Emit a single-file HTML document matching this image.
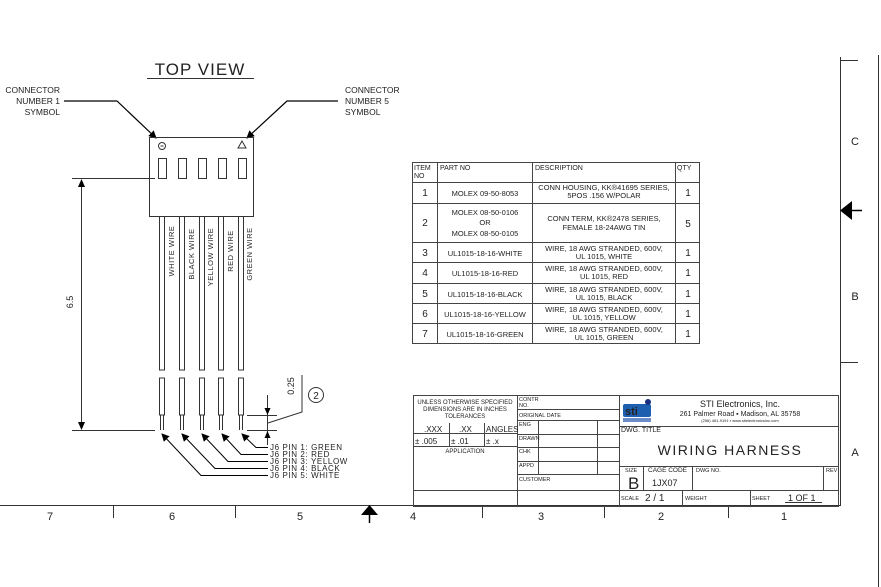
<!DOCTYPE html>
<html><head><meta charset="utf-8"><style>
html,body{margin:0;padding:0;background:#fff;}
svg{display:block;}
text{font-family:"Liberation Sans",sans-serif;fill:#222;}
</style></head><body>
<svg width="881" height="587" viewBox="0 0 881 587" xmlns="http://www.w3.org/2000/svg">
<defs>
<marker id="ah" markerWidth="8" markerHeight="8" refX="7" refY="4" orient="auto" markerUnits="userSpaceOnUse"><path d="M0,0 L8,4 L0,8 z" fill="#000"/></marker>
</defs>
<g stroke="#333" stroke-width="1" fill="none">
<!-- borders -->
<line x1="0" y1="505.5" x2="840" y2="505.5"/>
<line x1="840.5" y1="57" x2="840.5" y2="506"/>
<line x1="878.5" y1="55" x2="878.5" y2="587"/>
<line x1="840" y1="60.5" x2="858" y2="60.5"/>
<line x1="840" y1="362.5" x2="858" y2="362.5"/>
<line x1="113.5" y1="506" x2="113.5" y2="518"/>
<line x1="235.5" y1="506" x2="235.5" y2="518"/>
<line x1="482.5" y1="506" x2="482.5" y2="518"/>
<line x1="604.5" y1="506" x2="604.5" y2="518"/>
<line x1="728.5" y1="506" x2="728.5" y2="518"/>
<line x1="369.5" y1="512" x2="369.5" y2="523" stroke="#000" stroke-width="1.5"/>
<line x1="850" y1="210.5" x2="862" y2="210.5" stroke="#000" stroke-width="1.5"/>
</g>
<path d="M361,515 L378,515 L369.5,505 z" fill="#000"/>
<path d="M850,210.5 L841,210.5 M852,201 L840,210.5 L852,220 z" fill="#000"/>
<g font-size="11" fill="#444">
<text x="50" y="520" text-anchor="middle">7</text>
<text x="172" y="520" text-anchor="middle">6</text>
<text x="300" y="520" text-anchor="middle">5</text>
<text x="413" y="520" text-anchor="middle">4</text>
<text x="541" y="520" text-anchor="middle">3</text>
<text x="661" y="520" text-anchor="middle">2</text>
<text x="784" y="520" text-anchor="middle">1</text>
<text x="855" y="145" text-anchor="middle" fill="#777">C</text>
<text x="855" y="300" text-anchor="middle" fill="#777">B</text>
<text x="855" y="456" text-anchor="middle" fill="#777">A</text>
</g>

<!-- TOP VIEW -->
<text x="200" y="75" font-size="17" text-anchor="middle" letter-spacing="1">TOP VIEW</text>
<line x1="147" y1="78.5" x2="254" y2="78.5" stroke="#333"/>
<g font-size="8.5">
<text x="60" y="93" text-anchor="end">CONNECTOR</text>
<text x="60" y="104" text-anchor="end">NUMBER 1</text>
<text x="60" y="115" text-anchor="end">SYMBOL</text>
<text x="345" y="93">CONNECTOR</text>
<text x="345" y="104">NUMBER 5</text>
<text x="345" y="115">SYMBOL</text>
</g>
<g stroke="#000" stroke-width="1.2" fill="none">
<polyline points="64,101 117,101 156,138" marker-end="url(#ah)"/>
<polyline points="338,101 287,101 247,138" marker-end="url(#ah)"/>
</g>
<!-- connector -->
<g stroke="#333" fill="none" stroke-width="1">
<rect x="149.5" y="137.5" width="104" height="79"/>
<circle cx="162" cy="146" r="3.5"/>
<line x1="160.5" y1="146" x2="163.5" y2="146"/>
<path d="M238,148 L246,148 L242,141 z"/>
<rect x="158.5" y="158.5" width="8" height="20"/>
<rect x="178.5" y="158.5" width="8" height="20"/>
<rect x="198.5" y="158.5" width="8" height="20"/>
<rect x="218.5" y="158.5" width="8" height="20"/>
<rect x="238.5" y="158.5" width="8" height="20"/>
<!-- wires -->
<g>
<path d="M159.5,217 V370 H164.5 V217 M159.5,378 V415 H164.5 V378 Z M160.5,415 V430 M163.5,415 V430"/>
<path d="M179.5,217 V370 H184.5 V217 M179.5,378 V415 H184.5 V378 Z M180.5,415 V430 M183.5,415 V430"/>
<path d="M199.5,217 V370 H204.5 V217 M199.5,378 V415 H204.5 V378 Z M200.5,415 V430 M203.5,415 V430"/>
<path d="M218.5,217 V370 H223.5 V217 M218.5,378 V415 H223.5 V378 Z M219.5,415 V430 M222.5,415 V430"/>
<path d="M238.5,217 V370 H243.5 V217 M238.5,378 V415 H243.5 V378 Z M239.5,415 V430 M242.5,415 V430"/>
</g>
<!-- dims -->
<line x1="72" y1="178.5" x2="155" y2="178.5"/>
<line x1="72" y1="430.5" x2="155" y2="430.5"/>
<line x1="81.5" y1="185" x2="81.5" y2="424"/>
<line x1="247" y1="415.5" x2="277" y2="415.5"/>
<line x1="247" y1="430.5" x2="277" y2="430.5"/>
<line x1="267.5" y1="395" x2="267.5" y2="445"/>
<polyline points="268,423 302,412 302,375"/>
<circle cx="316" cy="395" r="7.5"/>
</g>
<path d="M78,187 L85,187 L81.5,179 z M78,422 L85,422 L81.5,430 z" fill="#000"/>
<path d="M264.5,408 L270.5,408 L267.5,415 z M264.5,438 L270.5,438 L267.5,431 z" fill="#000"/>
<text transform="translate(73,302) rotate(-90)" font-size="9" text-anchor="middle">6.5</text>
<text transform="translate(294,386) rotate(-90)" font-size="9" text-anchor="middle">0.25</text>
<text x="316" y="399" font-size="10" text-anchor="middle">2</text>
<g font-size="7.5" letter-spacing="0.5">
<text transform="translate(174,251) rotate(-90)" text-anchor="middle">WHITE WIRE</text>
<text transform="translate(194,254) rotate(-90)" text-anchor="middle">BLACK WIRE</text>
<text transform="translate(213,257) rotate(-90)" text-anchor="middle">YELLOW WIRE</text>
<text transform="translate(233,251) rotate(-90)" text-anchor="middle">RED WIRE</text>
<text transform="translate(252,254) rotate(-90)" text-anchor="middle">GREEN WIRE</text>
</g>
<!-- pin callouts -->
<g stroke="#000" stroke-width="1" fill="none">
<polyline points="268,447.5 256,447.5 242,434" marker-end="url(#ah)"/>
<polyline points="268,454.5 241,454.5 222,434" marker-end="url(#ah)"/>
<polyline points="268,461.5 228,461.5 202,434" marker-end="url(#ah)"/>
<polyline points="268,468.5 215,468.5 182,434" marker-end="url(#ah)"/>
<polyline points="268,475.5 201,475.5 162,434" marker-end="url(#ah)"/>
</g>
<g font-size="8" letter-spacing="0.6">
<text x="270" y="450">J6 PIN 1: GREEN</text>
<text x="270" y="457">J6 PIN 2: RED</text>
<text x="270" y="464">J6 PIN 3: YELLOW</text>
<text x="270" y="471">J6 PIN 4: BLACK</text>
<text x="270" y="478">J6 PIN 5: WHITE</text>
</g>

<!-- parts table -->
<g stroke="#444" fill="none" stroke-width="1">
<rect x="412.5" y="162.5" width="287" height="181"/>
<line x1="437.5" y1="162" x2="437.5" y2="344"/>
<line x1="532.5" y1="162" x2="532.5" y2="344"/>
<line x1="675.5" y1="162" x2="675.5" y2="344"/>
<line x1="412" y1="182.5" x2="700" y2="182.5"/>
<line x1="412" y1="203.5" x2="700" y2="203.5"/>
<line x1="412" y1="242.5" x2="700" y2="242.5"/>
<line x1="412" y1="262.5" x2="700" y2="262.5"/>
<line x1="412" y1="283.5" x2="700" y2="283.5"/>
<line x1="412" y1="303.5" x2="700" y2="303.5"/>
<line x1="412" y1="323.5" x2="700" y2="323.5"/>
</g>
<g font-size="7">
<text x="414" y="170">ITEM</text><text x="414" y="178">NO</text>
<text x="440" y="170">PART NO</text>
<text x="535" y="170">DESCRIPTION</text>
<text x="677" y="170">QTY</text>
</g>
<g font-size="10" text-anchor="middle">
<text x="425" y="196">1</text><text x="425" y="226">2</text><text x="425" y="256">3</text>
<text x="425" y="276">4</text><text x="425" y="297">5</text><text x="425" y="317">6</text><text x="425" y="337">7</text>
<text x="688" y="196">1</text><text x="688" y="227">5</text><text x="688" y="256">1</text>
<text x="688" y="276">1</text><text x="688" y="297">1</text><text x="688" y="317">1</text><text x="688" y="337">1</text>
</g>
<g font-size="7.5" text-anchor="middle">
<text x="485" y="196">MOLEX 09-50-8053</text>
<text x="485" y="215">MOLEX 08-50-0106</text>
<text x="485" y="225">OR</text>
<text x="485" y="236">MOLEX 08-50-0105</text>
<text x="485" y="256">UL1015-18-16-WHITE</text>
<text x="485" y="276">UL1015-18-16-RED</text>
<text x="485" y="297">UL1015-18-16-BLACK</text>
<text x="485" y="317">UL1015-18-16-YELLOW</text>
<text x="485" y="337">UL1015-18-16-GREEN</text>
<text x="604" y="190">CONN HOUSING, KK®41695 SERIES,</text>
<text x="604" y="198">5POS .156 W/POLAR</text>
<text x="604" y="221">CONN TERM, KK®2478 SERIES,</text>
<text x="604" y="230">FEMALE 18-24AWG TIN</text>
<text x="604" y="251">WIRE, 18 AWG STRANDED, 600V,</text><text x="604" y="259">UL 1015, WHITE</text>
<text x="604" y="271">WIRE, 18 AWG STRANDED, 600V,</text><text x="604" y="279">UL 1015, RED</text>
<text x="604" y="292">WIRE, 18 AWG STRANDED, 600V,</text><text x="604" y="300">UL 1015, BLACK</text>
<text x="604" y="312">WIRE, 18 AWG STRANDED, 600V,</text><text x="604" y="320">UL 1015, YELLOW</text>
<text x="604" y="332">WIRE, 18 AWG STRANDED, 600V,</text><text x="604" y="340">UL 1015, GREEN</text>
</g>

<!-- title block -->
<g stroke="#444" fill="none" stroke-width="1">
<rect x="413.5" y="395.5" width="425" height="111"/>
<line x1="517.5" y1="395" x2="517.5" y2="506"/>
<line x1="619.5" y1="395" x2="619.5" y2="506"/>
<line x1="413" y1="490.5" x2="839" y2="490.5"/>
<line x1="413" y1="433.5" x2="517" y2="433.5"/>
<line x1="413" y1="446.5" x2="517" y2="446.5"/>
<line x1="449.5" y1="423" x2="449.5" y2="446"/>
<line x1="484.5" y1="423" x2="484.5" y2="446"/>
<line x1="517" y1="409.5" x2="619" y2="409.5"/>
<line x1="517" y1="420.5" x2="619" y2="420.5"/>
<line x1="517" y1="434.5" x2="619" y2="434.5"/>
<line x1="517" y1="447.5" x2="619" y2="447.5"/>
<line x1="517" y1="461.5" x2="619" y2="461.5"/>
<line x1="517" y1="474.5" x2="619" y2="474.5"/>
<line x1="538.5" y1="420" x2="538.5" y2="474"/>
<line x1="597.5" y1="420" x2="597.5" y2="474"/>
<line x1="619" y1="426.5" x2="839" y2="426.5"/>
<line x1="619" y1="466.5" x2="839" y2="466.5"/>
<line x1="643.5" y1="466" x2="643.5" y2="490"/>
<line x1="692.5" y1="466" x2="692.5" y2="490"/>
<line x1="823.5" y1="466" x2="823.5" y2="490"/>
<line x1="682.5" y1="490" x2="682.5" y2="506"/>
<line x1="750.5" y1="490" x2="750.5" y2="506"/>
</g>
<g font-size="6" text-anchor="middle">
<text x="465" y="404">UNLESS OTHERWISE SPECIFIED</text>
<text x="465" y="411">DIMENSIONS ARE IN INCHES</text>
<text x="465" y="418">TOLERANCES</text>
<text x="465" y="453">APPLICATION</text>
</g>
<g font-size="8">
<text x="424" y="432">.XXX</text><text x="459" y="432">.XX</text><text x="486" y="432">ANGLES</text>
<text x="415" y="444">± .005</text><text x="451" y="444">±  .01</text><text x="486" y="444">±  .x</text>
</g>
<g font-size="5.5">
<text x="519" y="401">CONTR</text><text x="519" y="407">NO.</text>
<text x="519" y="417">ORIGINAL DATE</text>
<text x="519" y="426">ENG</text><text x="519" y="440">DRAWN</text>
<text x="519" y="453">CHK</text><text x="519" y="467">APPD</text>
<text x="519" y="481">CUSTOMER</text>
<text x="621" y="432" font-size="7">DWG. TITLE</text>
<text x="625" y="472">SIZE</text><text x="648" y="472" font-size="6.5">CAGE CODE</text>
<text x="696" y="472">DWG NO.</text><text x="826" y="472">REV</text>
<text x="621" y="500">SCALE</text><text x="685" y="500">WEIGHT</text><text x="752" y="500">SHEET</text>
</g>
<text x="628" y="489" font-size="17" fill="#333">B</text>
<text x="652" y="486" font-size="9">1JX07</text>
<text x="645" y="501" font-size="10">2 / 1</text>
<text x="788" y="501" font-size="9">1 OF 1</text>
<line x1="785" y1="502.5" x2="822" y2="502.5" stroke="#333"/>
<text x="730" y="455" font-size="14" text-anchor="middle" letter-spacing="1.5" fill="#333">WIRING HARNESS</text>
<!-- logo -->
<g fill="#1f5fb0">
<rect x="623" y="404" width="28" height="13" rx="2"/>
<circle cx="648" cy="402" r="3" fill="#1a2f80"/>
<rect x="623" y="418" width="28" height="4" fill="#6a8cc8"/>
</g>
<text x="625" y="415" font-size="11" font-weight="bold" fill="#fff">sti</text>
<text x="740" y="407" font-size="9" text-anchor="middle">STI Electronics, Inc.</text>
<text x="740" y="416" font-size="7" text-anchor="middle">261 Palmer Road ▪ Madison, AL 35758</text>
<text x="740" y="422" font-size="4" text-anchor="middle">(256) 461-9191 ▪ www.stielectronicsinc.com</text>
</svg>
</body></html>
